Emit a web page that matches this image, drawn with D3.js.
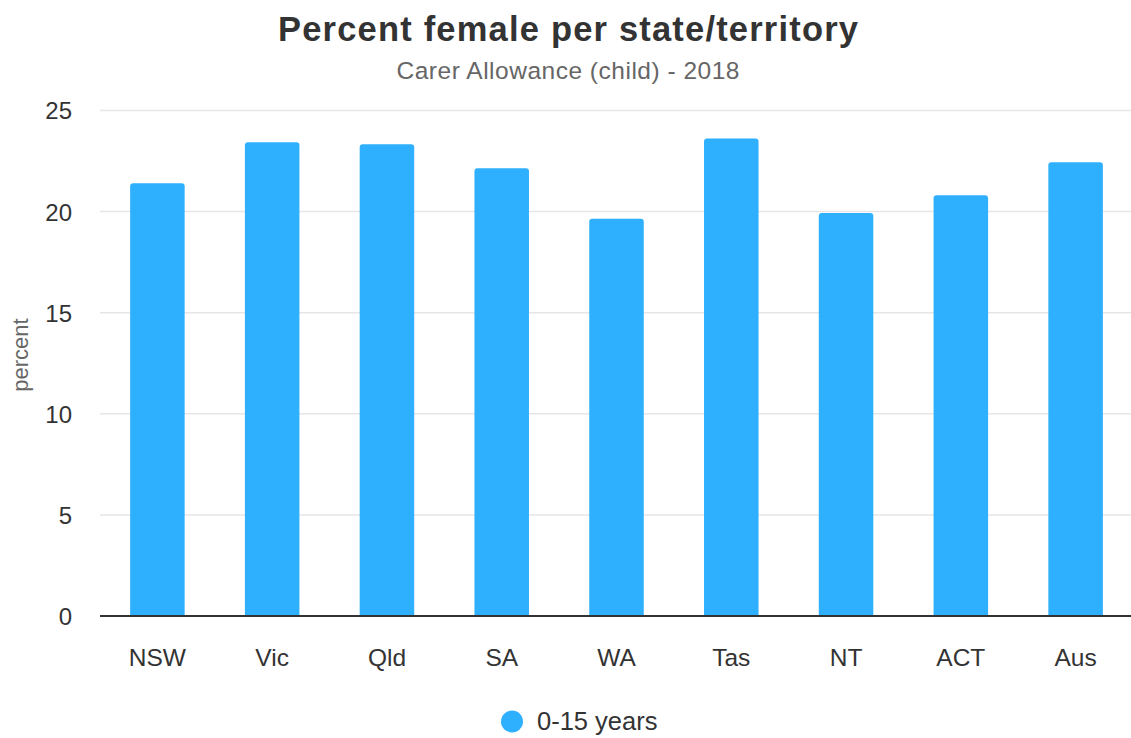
<!DOCTYPE html>
<html><head><meta charset="utf-8">
<script src="https://cdn.jsdelivr.net/npm/d3@7"></script>
<style>body{margin:0;background:#fff;} svg{display:block;font-family:"Liberation Sans",Arial,sans-serif;}</style>
</head><body><svg id="c" width="1131" height="738"></svg>
<script>
const categories = ["NSW","Vic","Qld","SA","WA","Tas","NT","ACT","Aus"];
const values = [21.4, 23.43, 23.33, 22.14, 19.65, 23.61, 19.93, 20.81, 22.44];
const yTicks = [0,5,10,15,20,25];
const seriesName = "0-15 years";

(function(){
const svg = d3.select("#c");
const W = 1131, H = 738;
const mLeft = 100, mRight = 1133, mTop = 110.5, mBottom = 616;
const x = d3.scaleBand().domain(categories).range([mLeft, mRight]).paddingInner(0.525).paddingOuter(0.2625);
const y = d3.scaleLinear().domain([0,25]).range([mBottom, mTop]);
const color = "#2eb0ff";
const ff = "Liberation Sans, Arial, sans-serif";

svg.append("text").attr("x", 568).attr("y", 41).attr("text-anchor","middle")
  .attr("font-size", 34.5).attr("font-weight","bold").attr("fill","#333")
  .attr("textLength", 580).attr("lengthAdjust","spacing")
  .text("Percent female per state/territory");
svg.append("text").attr("x", 568).attr("y", 78.5).attr("text-anchor","middle")
  .attr("font-size", 24.5).attr("fill","#666")
  .attr("textLength", 343).attr("lengthAdjust","spacing")
  .text("Carer Allowance (child) - 2018");

// grid
svg.append("g").selectAll("line").data(yTicks.filter(d=>d>0)).join("line")
  .attr("x1", mLeft).attr("x2", W).attr("y1", d=>y(d)).attr("y2", d=>y(d))
  .attr("stroke","#e6e6e6").attr("stroke-width",1.5);

// y axis labels
const yAxis = d3.axisLeft(y).tickValues(yTicks).tickSize(0).tickPadding(0);
const gy = svg.append("g").attr("transform", `translate(72,0)`).call(yAxis);
gy.select(".domain").remove();
gy.selectAll("text").attr("font-size", 24).attr("fill","#333").attr("font-family",ff).attr("dy","0.35em");

svg.append("text").attr("transform","translate(28,355) rotate(-90)").attr("text-anchor","middle")
  .attr("font-size",22).attr("fill","#666").text("percent");

// bars with rounded top
const r = 3;
svg.append("g").selectAll("path").data(categories).join("path")
  .attr("fill", color)
  .attr("d", (c,i) => {
    const x0 = x(c), w = x.bandwidth(), y0 = y(values[i]), yb = y(0);
    return `M${x0},${yb}V${y0+r}Q${x0},${y0} ${x0+r},${y0}H${x0+w-r}Q${x0+w},${y0} ${x0+w},${y0+r}V${yb}Z`;
  });

// x axis
const xAxis = d3.axisBottom(x).tickSize(0).tickPadding(0);
const gx = svg.append("g").attr("transform", `translate(0,${mBottom})`).call(xAxis);
gx.select(".domain").attr("d", `M${mLeft},0H${W}`).attr("stroke","#333").attr("stroke-width",2);
gx.selectAll("text").attr("font-size",24.5).attr("fill","#333").attr("font-family",ff).attr("y", 50).attr("dy","0");

// legend
const lg = svg.append("g");
lg.append("circle").attr("cx", 512).attr("cy", 721.5).attr("r", 11).attr("fill", color);
lg.append("text").attr("x", 537).attr("y", 730).attr("font-size",25.5).attr("fill","#333").text(seriesName);
})();
</script></body></html>
